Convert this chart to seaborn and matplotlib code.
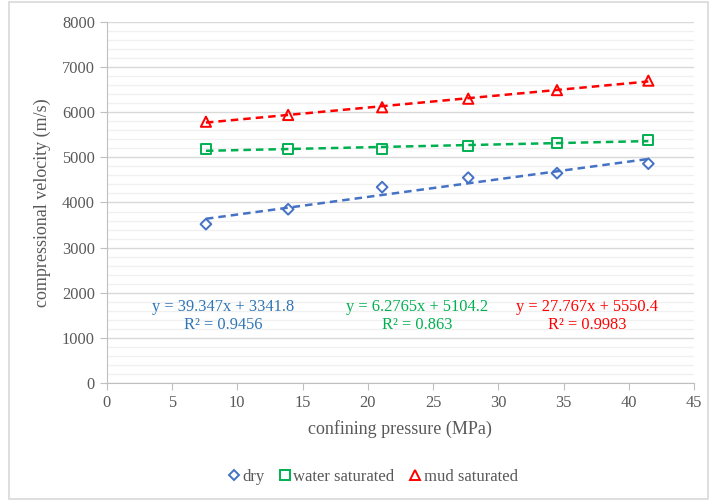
import numpy as np
import pandas as pd
import matplotlib.pyplot as plt
import seaborn as sns
from matplotlib.patches import Rectangle
from matplotlib.lines import Line2D
from matplotlib.ticker import MultipleLocator

# values
pressure = [7.6, 13.9, 21.1, 27.7, 34.5, 41.5]
dry = [3520, 3850, 4340, 4550, 4650, 4860]
water = [5180, 5180, 5190, 5260, 5310, 5390]
mud = [5790, 5940, 6110, 6300, 6490, 6700]

series_names = ["dry", "water saturated", "mud saturated"]
series_values = [dry, water, mud]
equations = [
    "y = 39.347x + 3341.8\nR\u00b2 = 0.9456",
    "y = 6.2765x + 5104.2\nR\u00b2 = 0.863",
    "y = 27.767x + 5550.4\nR\u00b2 = 0.9983",
]

sns.set_style("white")
plt.rcParams['font.family'] = ['Liberation Serif', 'DejaVu Serif']

colors = ["#4472C4", "#00B050", "#FF0000"]
text_colors = ["#2E75B6", "#00B050", "#FF0000"]
markers = ["D", "s", "^"]
sizes = [30, 54, 54]
gray = "#595959"

fig = plt.figure(figsize=(7.13, 5.03), dpi=100)
ax = fig.add_axes([0.1497, 0.2386, 0.8237, 0.7177])

for vals, c, m, s in zip(series_values, colors, markers, sizes):
    sns.regplot(x=pressure, y=vals, scatter=False, ci=None, color=c, ax=ax,
                line_kws=dict(ls=(0, (3, 2)), lw=1.8))
    sns.scatterplot(x=pressure, y=vals, marker=m, s=s, facecolor="none",
                    edgecolor=c, linewidth=1.4, ax=ax, zorder=3)

# trendline equations
eq_x = [8.9, 23.8, 36.8]
for txt, c, xx in zip(equations, text_colors, eq_x):
    ax.text(xx, 1480, txt, color=c, ha="center", va="center",
            fontsize=11.8, linespacing=1.12)

ax.set_xlim(0, 45)
ax.set_ylim(0, 8000)
ax.xaxis.set_major_locator(MultipleLocator(5))
ax.yaxis.set_major_locator(MultipleLocator(1000))
ax.yaxis.set_minor_locator(MultipleLocator(200))
ax.grid(which="major", axis="y", color="#D9D9D9", lw=1.0)
ax.grid(which="minor", axis="y", color="#F0F0F0", lw=1.0)
ax.set_axisbelow(True)
ax.tick_params(which="major", length=5, color="#BFBFBF", labelcolor=gray,
               labelsize=11.8, direction="out", left=True, bottom=True)
ax.tick_params(which="minor", length=0)
for side in ["top", "right"]:
    ax.spines[side].set_visible(False)
for side in ["left", "bottom"]:
    ax.spines[side].set_color("#BFBFBF")

ax.set_xlabel("confining pressure (MPa)", fontsize=13, color=gray, labelpad=7)
ax.set_ylabel("compressional velocity (m/s)", fontsize=13, color=gray, labelpad=8)

handles = [Line2D([], [], marker=m, ls="none", markerfacecolor="none",
                  markeredgecolor=c, markeredgewidth=1.4,
                  markersize=5.5 if m == "D" else 7.5)
           for m, c in zip(markers, colors)]
leg = fig.legend(handles, series_names, loc="center", ncol=3,
                 bbox_to_anchor=(0.521, 1 - 477 / 503), frameon=False,
                 fontsize=12, handletextpad=0.0, columnspacing=0.75,
                 handlelength=1.0)
for t in leg.get_texts():
    t.set_color(gray)

fig.patches.append(Rectangle((9 / 713, 1 - 499 / 503), 699 / 713, 497 / 503,
                             transform=fig.transFigure, fill=False,
                             edgecolor="#D9D9D9", lw=1.2))

fig.savefig("out.png", dpi=100)
